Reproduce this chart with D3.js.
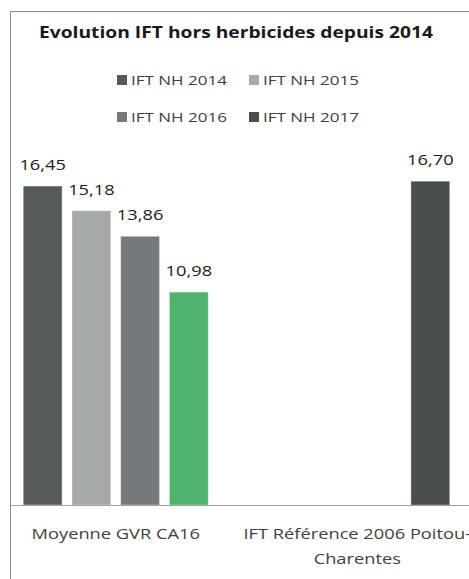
<!DOCTYPE html>
<html>
<head>
<meta charset="utf-8">
<script src="https://cdn.jsdelivr.net/npm/d3@7"></script>
<style>
  body { margin: 0; background: #fff; }
  svg { display: block; }
  text { font-family: "Open Sans", "Noto Sans", sans-serif; fill: #404040; }
</style>
</head>
<body>
<svg id="chart"></svg>
<script>
const categories = ['Moyenne GVR CA16', 'IFT Référence 2006 Poitou-Charentes'];
const series = ['IFT NH 2014', 'IFT NH 2015', 'IFT NH 2016', 'IFT NH 2017'];
const values2014 = [16.45, null];
const values2015 = [15.18, null];
const values2016 = [13.86, null];
const values2017 = [10.98, 16.70];
const seriesColors = ['#555a5a', '#a6a9a9', '#75797b', '#494e4e'];
const highlightColor = '#4fb26d'; // 2017 bar of the first category

const allValues = [values2014, values2015, values2016, values2017];

const width = 469;
const height = 579;
const margin = { top: 156, left: -5, right: -9, bottom: 74 };
// the source picture is stretched sideways, so text is widened to match
const stretch = 1.26;

const svg = d3.select('#chart')
  .attr('width', width)
  .attr('height', height);

// chart frame (cropped on the right and bottom)
svg.append('rect')
  .attr('x', 10.5)
  .attr('y', 11.5)
  .attr('width', 500)
  .attr('height', 600)
  .attr('fill', '#fff')
  .attr('stroke', '#8a8a8a')
  .attr('stroke-width', 1);

svg.append('text')
  .attr('x', 236)
  .attr('y', 38)
  .attr('text-anchor', 'middle')
  .style('font-size', '16.5px')
  .style('font-weight', 'bold')
  .style('fill', '#1a1a1a')
  .attr('textLength', 394)
  .attr('lengthAdjust', 'spacingAndGlyphs')
  .text('Evolution IFT hors herbicides depuis 2014');

// legend, two items per row
const legend = svg.append('g');
const legendItems = legend.selectAll('g')
  .data(series)
  .join('g')
  .attr('transform', (d, i) => `translate(${117 + (i % 2) * 132},${80 + Math.floor(i / 2) * 37})`);

legendItems.append('rect')
  .attr('x', 0)
  .attr('y', -5)
  .attr('width', 10)
  .attr('height', 10)
  .attr('fill', (d, i) => seriesColors[i]);

legendItems.append('text')
  .attr('transform', `translate(14,5) scale(${stretch},1)`)
  .style('font-size', '13.5px')
  .text((d) => d);

const plotBottom = height - margin.bottom;

const x0 = d3.scaleBand()
  .domain(categories)
  .range([margin.left, width - margin.right]);

const x1 = d3.scaleBand()
  .domain(series)
  .range([x0.bandwidth() * 0.117, x0.bandwidth() * 0.883])
  .paddingInner(0.203);

const y = d3.scaleLinear()
  .domain([0, 18])
  .range([plotBottom, margin.top]);

const bars = [];
series.forEach((s, si) => {
  categories.forEach((c, ci) => {
    const v = allValues[si][ci];
    if (v !== null) {
      bars.push({
        category: c, series: s, value: v,
        color: (si === 3 && ci === 0) ? highlightColor : seriesColors[si],
      });
    }
  });
});

const chart = svg.append('g');

chart.selectAll('rect.bar')
  .data(bars)
  .join('rect')
  .attr('class', 'bar')
  .attr('x', (d) => x0(d.category) + x1(d.series))
  .attr('y', (d) => y(d.value))
  .attr('width', x1.bandwidth())
  .attr('height', (d) => plotBottom - y(d.value))
  .attr('fill', (d) => d.color)
  .attr('stroke', 'rgba(255,255,255,0.35)')
  .attr('stroke-width', 1);

const fmt = (v) => d3.format('.2f')(v).replace('.', ',');

chart.selectAll('text.label')
  .data(bars)
  .join('text')
  .attr('class', 'label')
  .attr('transform', (d) => {
    const cx = x0(d.category) + x1(d.series) + x1.bandwidth() / 2;
    return `translate(${cx},${y(d.value) - 16}) scale(${stretch},1)`;
  })
  .attr('text-anchor', 'middle')
  .style('font-size', '14.5px')
  .style('fill', '#1a1a1a')
  .text((d) => fmt(d.value));

// category axis
svg.append('line')
  .attr('x1', 10)
  .attr('x2', width)
  .attr('y1', plotBottom + 0.5)
  .attr('y2', plotBottom + 0.5)
  .attr('stroke', '#a0a0a0')
  .attr('stroke-width', 1.2);

const catLabels = svg.selectAll('text.cat')
  .data(categories)
  .join('text')
  .attr('class', 'cat')
  .attr('text-anchor', 'middle')
  .style('font-size', '14.5px')
  .attr('transform', (d) => `translate(${x0(d) + x0.bandwidth() / 2},539) scale(${stretch},1)`);

catLabels.each(function (d) {
  const lines = d.split(/(?<=-)/);
  d3.select(this).selectAll('tspan')
    .data(lines)
    .join('tspan')
    .attr('x', 0)
    .attr('dy', (l, i) => (i === 0 ? 0 : 25))
    .text((l) => l);
});
</script>
</body>
</html>
